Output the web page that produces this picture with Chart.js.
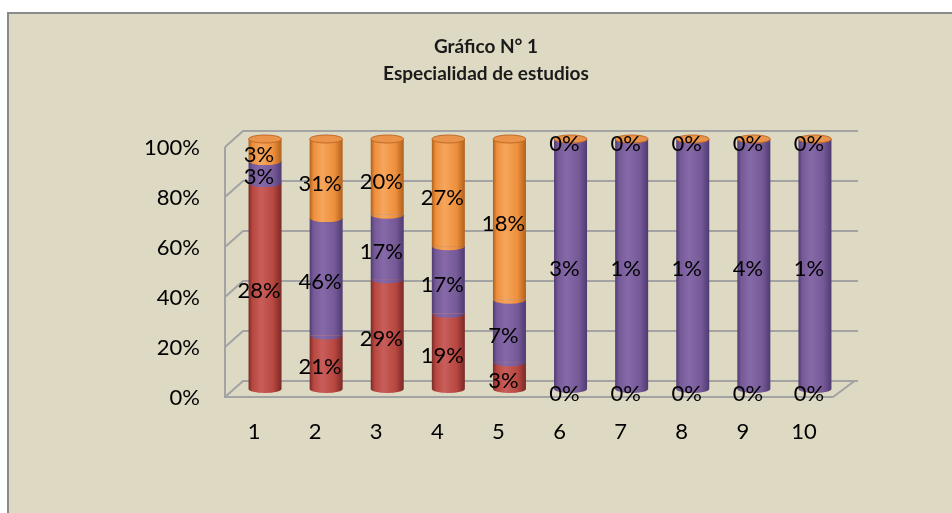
<!DOCTYPE html>
<html><head><meta charset="utf-8">
<script src="https://cdn.jsdelivr.net/npm/chart.js@4/dist/chart.umd.min.js"></script>
<style>
html,body{margin:0;padding:0;background:#fff;overflow:hidden;width:952px;height:513px;}
#box{position:absolute;left:7px;top:12px;width:970px;height:520px;border-left:2px solid #8a8a8a;border-top:2px solid #8a8a8a;background:#DDD9C3;}
#wrap{position:absolute;left:0;top:0;width:954px;height:499px;}
</style></head><body>
<div id="box"><div id="wrap"><canvas id="c"></canvas></div></div>
<script>
const categories = ['1','2','3','4','5','6','7','8','9','10'];
const redValues    = [28, 21, 29, 19, 3, 0, 0, 0, 0, 0];
const purpleValues = [3, 46, 17, 17, 7, 3, 1, 1, 4, 1];
const orangeValues = [3, 31, 20, 27, 18, 0, 0, 0, 0, 0];
const yTickValues  = [0, 20, 40, 60, 80, 100];
const titleLines   = ['Gráfico N° 1', 'Especialidad de estudios'];

const rawSeries = [redValues, purpleValues, orangeValues];
const totals = categories.map((_, i) => rawSeries.reduce((s, a) => s + a[i], 0));
const pct = arr => arr.map((v, i) => totals[i] ? v / totals[i] * 100 : 0);

const BAR_W = 33;
const palettes = [
  {edge:'#7a2a28', hi:'#c85e5b', mid:'#b8473f'},
  {edge:'#4f3b72', hi:'#8569a8', mid:'#765a98'},
  {edge:'#b0611c', hi:'#f6a65c', mid:'#ee8f3c'}
];
function cylGrad(ctx, cx, p) {
  if (!isFinite(cx)) return p.mid;
  const g = ctx.createLinearGradient(cx - BAR_W/2, 0, cx + BAR_W/2, 0);
  g.addColorStop(0, p.edge);
  g.addColorStop(0.12, p.mid);
  g.addColorStop(0.38, p.hi);
  g.addColorStop(0.75, p.mid);
  g.addColorStop(1, p.edge);
  return g;
}
function bg(d) {
  return (c) => {
    const ch = c.chart;
    if (!ch.scales || !ch.scales.x || c.dataIndex === undefined) return palettes[d].mid;
    const cx = ch.scales.x.getPixelForValue(c.dataIndex);
    return cylGrad(ch.ctx, cx, palettes[d]);
  };
}

const gridPlugin = {
  id: 'grid3d',
  beforeDatasetsDraw(chart) {
    const {ctx, chartArea: a, scales: {y}} = chart;
    const fx = a.left - 9.5, bx = a.left + 8.5, rx = a.right + 12.5, d = 8;
    ctx.save();
    ctx.strokeStyle = '#a3a3a3';
    ctx.lineWidth = 2;
    yTickValues.forEach(v => {
      const yy = y.getPixelForValue(v);
      ctx.beginPath();
      ctx.moveTo(fx, yy + d);
      ctx.lineTo(bx, yy - d);
      ctx.lineTo(rx, yy - d);
      ctx.stroke();
    });
    const y0 = y.getPixelForValue(0), y1 = y.getPixelForValue(100);
    ctx.beginPath();
    ctx.moveTo(fx, y1 + d); ctx.lineTo(fx, y0 + d);
    ctx.lineTo(a.right - 12.5, y0 + d);
    ctx.lineTo(a.right + 9, y0 - d);
    ctx.stroke();
    ctx.restore();
  }
};

const cylPlugin = {
  id: 'cyl',
  afterDatasetsDraw(chart) {
    const ctx = chart.ctx;
    const ry = 4;
    ctx.save();
    categories.forEach((_, i) => {
      rawSeries.forEach((arr, d) => {
        if (arr[i] <= 0) return;
        const el = chart.getDatasetMeta(d).data[i];
        ctx.beginPath();
        ctx.ellipse(el.x, el.base, BAR_W/2, ry, 0, 0, Math.PI);
        ctx.fillStyle = cylGrad(ctx, el.x, palettes[d]);
        ctx.fill();
      });
      const top = chart.getDatasetMeta(2).data[i];
      ctx.beginPath();
      ctx.ellipse(top.x, top.y, BAR_W/2, ry, 0, 0, Math.PI * 2);
      ctx.fillStyle = '#e9944a';
      ctx.fill();
      ctx.strokeStyle = '#c06a24';
      ctx.lineWidth = 1;
      ctx.stroke();
    });
    ctx.fillStyle = '#000';
    ctx.font = '22px Lato';
    ctx.textAlign = 'center';
    ctx.textBaseline = 'middle';
    rawSeries.forEach((arr, d) => {
      chart.getDatasetMeta(d).data.forEach((el, i) => {
        const cy = (el.y + el.base) / 2;
        ctx.fillText(arr[i] + '%', el.x - 6, cy + 5);
      });
    });
    ctx.restore();
  }
};

const tickFont = {family: 'Lato', size: 22};
new Chart(document.getElementById('c'), {
  type: 'bar',
  data: {
    labels: categories,
    datasets: [
      {label: 'A', data: pct(redValues), backgroundColor: bg(0)},
      {label: 'B', data: pct(purpleValues), backgroundColor: bg(1)},
      {label: 'C', data: pct(orangeValues), backgroundColor: bg(2)}
    ]
  },
  options: {
    responsive: true,
    maintainAspectRatio: false,
    animation: false,
    events: [],
    datasets: {bar: {barPercentage: BAR_W / 61.1, categoryPercentage: 1}},
    layout: {padding: 0},
    plugins: {
      legend: {display: false},
      tooltip: {enabled: false},
      title: {
        display: true,
        text: titleLines,
        color: '#1a1a1a',
        font: {family: 'Lato', size: 19, weight: 'bold', lineHeight: 27 / 19},
        padding: {top: 19.5, bottom: 51.5}
      }
    },
    scales: {
      x: {
        stacked: true,
        grid: {display: false, drawTicks: false},
        border: {display: false},
        ticks: {font: tickFont, color: '#000', padding: 30, labelOffset: -11, maxRotation: 0},
        afterFit: s => { s.height = 124; }
      },
      y: {
        stacked: true,
        min: 0, max: 100,
        grid: {display: false, drawTicks: false},
        border: {display: false},
        afterBuildTicks: s => { s.ticks = yTickValues.map(v => ({value: v})); },
        ticks: {font: tickFont, color: '#000', padding: 34.5, labelOffset: 8.5, callback: v => v + '%'},
        afterFit: s => { s.width = 225.5; }
      },
      yRight: {
        type: 'linear',
        position: 'right',
        min: 0, max: 100,
        grid: {display: false, drawTicks: false},
        border: {display: false},
        ticks: {display: false},
        afterFit: s => { s.width = 117.5; }
      }
    }
  },
  plugins: [gridPlugin, cylPlugin]
});
</script>
</body></html>
